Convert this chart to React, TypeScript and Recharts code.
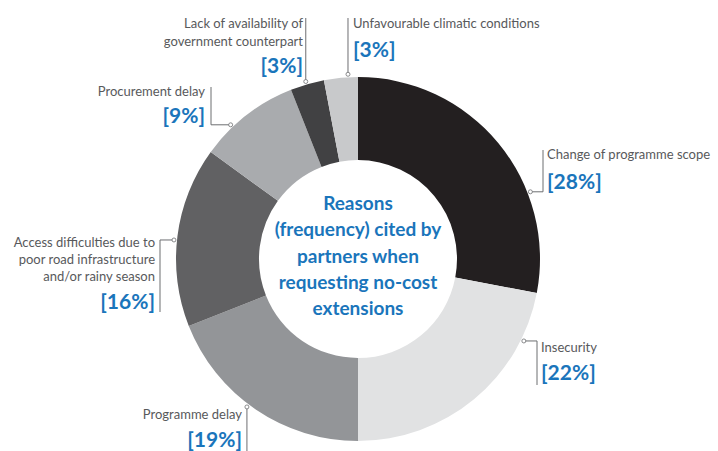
import React from 'react';
import { PieChart, Pie, Cell } from 'recharts';

const REASONS = [
  'Change of programme scope',
  'Insecurity',
  'Programme delay',
  'Access difficulties due to poor road infrastructure and/or rainy season',
  'Procurement delay',
  'Lack of availability of government counterpart',
  'Unfavourable climatic conditions',
];
const SHARES = [28, 22, 19, 16, 9, 3, 3];
const NAME_LINES = [
  ['Change of programme scope'],
  ['Insecurity'],
  ['Programme delay'],
  ['Access difficulties due to', 'poor road infrastructure', 'and/or rainy season'],
  ['Procurement delay'],
  ['Lack of availability of', 'government counterpart'],
  ['Unfavourable climatic conditions'],
];
const CENTER_TITLE = ['Reasons', '(frequency) cited by', 'partners when', 'requesting no-cost', 'extensions'];

const COLORS = ['#231f20', '#e1e2e3', '#939598', '#616163', '#a9abae', '#414143', '#c8c9cb'];
const BLUE = '#1a75bb';
const GREY = '#58595b';
const FONT = 'Lato, "Open Sans", sans-serif';

// leader layout: dot angle (deg clockwise from 12 o'clock), leader path, text anchor
type Step = ['h' | 'v', number];
const LAYOUT: { angle: number; path: Step[]; x: number; anchor: 'start' | 'end'; lines: number[]; pct: number }[] = [
  { angle: 68.7, path: [['h', 543], ['v', 150]], x: 547, anchor: 'start', lines: [159], pct: 189 },
  { angle: 116.3, path: [['h', 537], ['v', 385]], x: 541, anchor: 'start', lines: [352], pct: 380 },
  { angle: 216.9, path: [['v', 451]], x: 242, anchor: 'end', lines: [419], pct: 447 },
  { angle: 275.9, path: [['h', 160], ['v', 312]], x: 155, anchor: 'end', lines: [247, 264, 281], pct: 309 },
  { angle: 316.5, path: [['h', 211], ['v', 87]], x: 205, anchor: 'end', lines: [96], pct: 123 },
  { angle: 343.6, path: [['v', 18]], x: 303, anchor: 'end', lines: [28, 46], pct: 73 },
  { angle: 356.9, path: [['v', 18]], x: 353, anchor: 'start', lines: [28], pct: 57 },
];

const data = REASONS.map((name, i) => ({ name, value: SHARES[i] }));

const renderLabel = (props: any) => {
  const { cx, cy, outerRadius, index } = props;
  const l = LAYOUT[index];
  const rad = (l.angle * Math.PI) / 180;
  const dx = cx + (outerRadius + 3) * Math.sin(rad);
  const dy = cy - (outerRadius + 3) * Math.cos(rad);
  let d = `M${dx},${dy}`;
  l.path.forEach(([c, v]) => {
    d += c === 'h' ? ` H${v}` : ` V${v}`;
  });
  return (
    <g key={`lbl-${index}`}>
      <path d={d} fill="none" stroke="#6d6e71" strokeWidth={1} />
      <circle cx={dx} cy={dy} r={2} fill="#fff" stroke="#6d6e71" strokeWidth={0.8} />
      {NAME_LINES[index].map((t, j) => (
        <text key={j} x={l.x} y={l.lines[j]} textAnchor={l.anchor} fill={GREY} fontSize={13} fontFamily={FONT}>
          {t}
        </text>
      ))}
      <text x={l.x} y={l.pct} textAnchor={l.anchor} fill={BLUE} fontSize={21} fontWeight={700} fontFamily={FONT}>
        {`[${SHARES[index]}%]`}
      </text>
    </g>
  );
};

export default function App() {
  return (
    <div style={{ position: 'absolute', left: 0, top: 0, background: '#fff' }}>
      <PieChart width={718} height={451} margin={{ top: 0, right: 0, bottom: 0, left: 0 }}>
        <Pie
          data={data}
          dataKey="value"
          cx={358}
          cy={259}
          innerRadius={99}
          outerRadius={182}
          startAngle={90}
          endAngle={-270}
          stroke="none"
          label={renderLabel}
          labelLine={false}
          isAnimationActive={false}
        >
          {data.map((_, i) => (
            <Cell key={i} fill={COLORS[i]} />
          ))}
        </Pie>
        <text textAnchor="middle" fill={BLUE} fontSize={19} fontWeight={700} fontFamily={FONT}>
          {CENTER_TITLE.map((t, i) => (
            <tspan key={i} x={358} y={210 + i * 26.3}>
              {t}
            </tspan>
          ))}
        </text>
      </PieChart>
    </div>
  );
}
